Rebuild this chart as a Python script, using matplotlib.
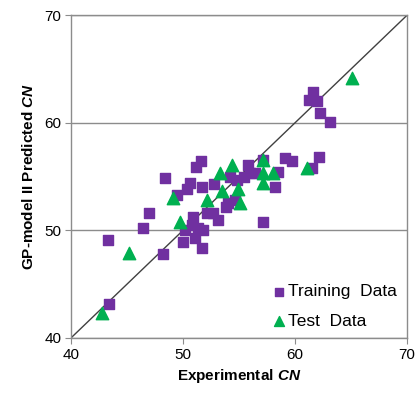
import matplotlib
matplotlib.use("Agg")
import matplotlib.pyplot as plt

plt.rcParams['font.family'] = ['Liberation Sans', 'DejaVu Sans']
plt.rcParams['mathtext.fontset'] = 'custom'
plt.rcParams['mathtext.it'] = 'Liberation Sans:italic:bold'
plt.rcParams['mathtext.rm'] = 'Liberation Sans:bold'

# experimental vs predicted CN
train_exp = [43.3, 43.4, 46.4, 47.0, 48.2, 48.4, 50.2, 50.0, 50.6, 50.4,
             51.2, 51.6, 51.7, 52.8, 49.5, 50.9, 50.8, 51.3, 51.8, 51.1,
             51.7, 52.1, 52.7, 53.1, 53.8, 54.0, 54.6, 54.2, 54.8, 55.4,
             55.8, 56.0, 56.4, 57.1, 58.5, 59.1, 59.7, 58.2, 57.1, 62.1,
             61.5, 61.6, 61.2, 62.0, 62.2, 63.1]
train_pred = [49.1, 43.2, 50.2, 51.6, 47.8, 54.9, 50.0, 48.9, 54.4, 53.8,
              55.9, 56.4, 54.0, 54.3, 53.3, 51.2, 50.5, 50.2, 50.0, 49.3,
              48.4, 51.6, 51.6, 51.0, 52.2, 52.5, 52.8, 55.0, 54.7, 55.0,
              56.1, 55.3, 55.3, 56.5, 55.4, 56.7, 56.4, 54.0, 50.8, 56.8,
              55.8, 62.9, 62.1, 62.0, 60.9, 60.1]

test_exp = [42.8, 45.2, 49.7, 49.1, 52.1, 53.5, 53.3, 54.4, 54.9, 57.1,
            57.1, 58.0, 57.1, 55.1, 61.1, 65.1]
test_pred = [42.3, 47.9, 50.8, 53.0, 52.8, 53.7, 55.3, 56.1, 53.8, 56.5,
             55.3, 55.3, 54.4, 52.5, 55.8, 64.2]

fig = plt.figure(figsize=(4.15, 3.99), dpi=100)
ax = fig.add_axes([0.171, 0.153, 0.810, 0.809])

ax.plot([40, 70], [40, 70], color='#404040', lw=1.0, zorder=1)
ax.scatter(train_exp, train_pred, marker='s', s=52, color='#7030A0',
           label='Training  Data', zorder=3)
ax.scatter(test_exp, test_pred, marker='^', s=80, color='#00B050',
           label='Test  Data', zorder=4)

ax.set_xlim(40, 70)
ax.set_ylim(40, 70)
ax.set_xticks([40, 50, 60, 70])
ax.set_yticks([40, 50, 60, 70])
ax.yaxis.grid(True, color='#8c8c8c', lw=1.0)
ax.set_axisbelow(True)
for s in ax.spines.values():
    s.set_color('#8c8c8c')
    s.set_linewidth(1.0)
ax.tick_params(direction='out', length=4, color='#8c8c8c', labelsize=11,
               pad=3)

ax.set_xlabel('Experimental $CN$', fontsize=11, fontweight='bold', labelpad=4)
ax.set_ylabel('GP-model II Predicted $CN$', fontsize=11, fontweight='bold',
              labelpad=6)

ax.legend(loc='lower right', bbox_to_anchor=(1.005, -0.01), frameon=False,
          fontsize=12.5, handletextpad=0.0, handlelength=1.0,
          borderaxespad=0.3, labelspacing=0.85, scatterpoints=1,
          markerscale=0.8)

fig.savefig('out.png', dpi=100)
